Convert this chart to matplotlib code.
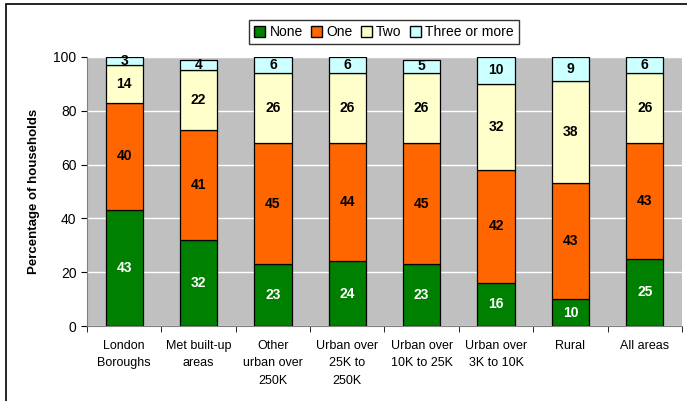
import matplotlib.pyplot as plt
from matplotlib.patches import Rectangle, Patch
import numpy as np

plt.rcParams['font.family'] = ['Liberation Sans', 'DejaVu Sans']

# 地域区分ごとの自動車保有台数の割合
areas = ['London\nBoroughs', 'Met built-up\nareas', 'Other\nurban over\n250K',
         'Urban over\n25K to\n250K', 'Urban over\n10K to 25K',
         'Urban over\n3K to 10K', 'Rural', 'All areas']
none = [43, 32, 23, 24, 23, 16, 10, 25]
one = [40, 41, 45, 44, 45, 42, 43, 43]
two = [14, 22, 26, 26, 26, 32, 38, 26]
three_plus = [3, 4, 6, 6, 5, 10, 9, 6]

series = [('None', none, '#008000', 'white'),
          ('One', one, '#FF6600', 'black'),
          ('Two', two, '#FFFFCC', 'black'),
          ('Three or more', three_plus, '#CCFFFF', 'black')]

fig = plt.figure(figsize=(6.87, 4.01), dpi=100)
ax = fig.add_axes([0.1266, 0.187, 0.8661, 0.671])
ax.set_facecolor('#C0C0C0')

x = np.arange(len(areas))
bottom = np.zeros(len(areas))
handles = []
for name, vals, color, tcol in series:
    vals = np.array(vals, dtype=float)
    ax.bar(x, vals, width=0.5, bottom=bottom, color=color,
           edgecolor='black', linewidth=0.9, zorder=3)
    for xi, b, v in zip(x, bottom, vals):
        ax.text(xi, b + v / 2, f'{v:.0f}', ha='center', va='center',
                fontsize=10, fontweight='bold', color=tcol, zorder=4)
    bottom += vals
    handles.append(Patch(facecolor=color, edgecolor='black', label=name))

ax.set_xlim(-0.5, len(areas) - 0.5)
ax.set_ylim(0, 100)
ax.set_yticks(range(0, 101, 20))
ax.set_xticks(np.arange(len(areas) + 1) - 0.5, minor=True)
ax.set_xticks(x)
ax.set_xticklabels(areas, fontsize=9, linespacing=1.6)
ax.tick_params(axis='x', which='major', length=0, pad=10)
ax.tick_params(axis='x', which='minor', length=4, color='black')
ax.tick_params(axis='y', labelsize=10, length=4)
ax.yaxis.grid(True, color='white', linewidth=1, zorder=0)
ax.set_axisbelow(True)
for side in ['top', 'right']:
    ax.spines[side].set_visible(False)
ax.spines['left'].set_color('#808080')
ax.spines['bottom'].set_color('#808080')
ax.set_ylabel('Percentage of households', fontsize=9.5, fontweight='bold',
              labelpad=10)

fig.legend(handles=handles, loc='center', bbox_to_anchor=(0.559, 0.92),
           ncol=4, fontsize=10, frameon=True, fancybox=False,
           edgecolor='black', handlelength=0.8, handleheight=0.8,
           handletextpad=0.3, columnspacing=0.6, borderpad=0.35)

# 外枠
fig.patches.append(Rectangle((6 / 687, -0.01), 1.0, 1 - 4 / 401 + 0.01,
                             transform=fig.transFigure, fill=False,
                             edgecolor='black', linewidth=1.2))

fig.savefig('out.png', dpi=100)
